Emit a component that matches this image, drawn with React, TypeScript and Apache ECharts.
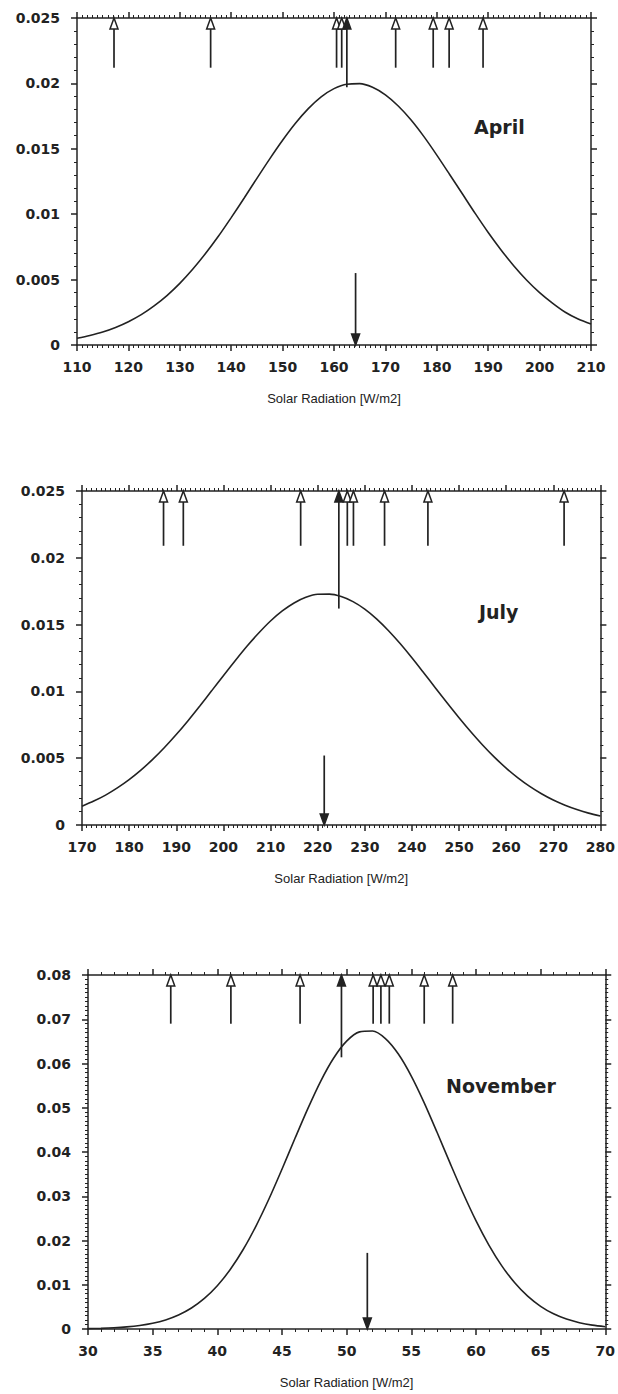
import { useEffect, useRef } from "react";
import * as echarts from "echarts";

// ---------- April ----------
const aprilCurveX = [110, 112.5, 115, 117.5, 120, 122.5, 125, 127.5, 130, 132.5, 135, 137.5, 140, 142.5, 145, 147.5, 150, 152.5, 155, 157.5, 160, 162.5, 165, 167.5, 170, 172.5, 175, 177.5, 180, 182.5, 185, 187.5, 190, 192.5, 195, 197.5, 200, 202.5, 205, 207.5, 210];
const aprilCurveY = [0.00052, 0.00073, 0.00099, 0.00134, 0.00178, 0.00232, 0.00299, 0.00378, 0.00471, 0.00579, 0.00699, 0.00831, 0.00974, 0.01122, 0.01274, 0.01423, 0.01565, 0.01695, 0.01807, 0.01897, 0.0196, 0.01994, 0.01998, 0.0197, 0.01912, 0.01827, 0.0172, 0.01593, 0.01452, 0.01304, 0.01154, 0.01004, 0.0086, 0.00727, 0.00604, 0.00495, 0.004, 0.0032, 0.0025, 0.00198, 0.0016];
const aprilObsX = [117.2, 136, 160.5, 161.5, 162.5, 172, 179.3, 182.4, 189];
const aprilObsLow = [0.0212, 0.0212, 0.0212, 0.0212, 0.0197, 0.0212, 0.0212, 0.0212, 0.0212];
const aprilObsFilled = [0, 0, 0, 0, 1, 0, 0, 0, 0];
const aprilMeanX = 164.2;
const aprilMeanTop = 0.0055;

// ---------- July ----------
const julyCurveX = [170, 172.5, 175, 177.5, 180, 182.5, 185, 187.5, 190, 192.5, 195, 197.5, 200, 202.5, 205, 207.5, 210, 212.5, 215, 217.5, 220, 222.5, 225, 227.5, 230, 232.5, 235, 237.5, 240, 242.5, 245, 247.5, 250, 252.5, 255, 257.5, 260, 262.5, 265, 267.5, 270, 272.5, 275, 277.5, 280];
const julyCurveY = [0.00141, 0.00179, 0.00224, 0.00278, 0.0034, 0.00411, 0.00491, 0.0058, 0.00677, 0.00781, 0.00891, 0.01004, 0.01118, 0.0123, 0.01338, 0.01437, 0.01527, 0.01602, 0.01662, 0.01704, 0.01727, 0.01728, 0.0171, 0.01672, 0.01616, 0.01543, 0.01456, 0.01358, 0.01252, 0.0114, 0.01026, 0.00913, 0.00803, 0.00698, 0.00599, 0.00508, 0.00426, 0.00353, 0.00289, 0.00234, 0.00187, 0.00148, 0.00116, 0.00089, 0.00068];
const julyObsX = [187.3, 191.5, 216.4, 224.5, 226.3, 227.6, 234.2, 243.4, 272.3];
const julyObsLow = [0.0209, 0.0209, 0.0209, 0.0162, 0.0209, 0.0209, 0.0209, 0.0209, 0.0209];
const julyObsFilled = [0, 0, 0, 1, 0, 0, 0, 0, 0];
const julyMeanX = 221.4;
const julyMeanTop = 0.0052;

// ---------- November ----------
const novCurveX = [30, 31, 32, 33, 34, 35, 36, 37, 38, 39, 40, 41, 42, 43, 44, 45, 46, 47, 48, 49, 50, 51, 52, 53, 54, 55, 56, 57, 58, 59, 60, 61, 62, 63, 64, 65, 66, 67, 68, 69, 70];
const novCurveY = [0.00008, 0.00015, 0.00027, 0.00047, 0.00079, 0.00129, 0.00205, 0.00316, 0.00474, 0.0069, 0.00977, 0.01344, 0.01796, 0.02333, 0.02943, 0.03611, 0.04304, 0.04981, 0.05604, 0.06125, 0.06506, 0.06715, 0.06734, 0.06563, 0.06214, 0.05717, 0.05112, 0.0444, 0.03748, 0.03074, 0.02449, 0.01897, 0.01427, 0.01044, 0.00741, 0.00512, 0.00343, 0.00224, 0.00142, 0.00087, 0.00052];
const novObsX = [36.4, 41.05, 46.4, 49.6, 52.05, 52.65, 53.3, 56, 58.2];
const novObsLow = [0.069, 0.069, 0.069, 0.0614, 0.069, 0.069, 0.069, 0.069, 0.069];
const novObsFilled = [0, 0, 0, 1, 0, 0, 0, 0, 0];
const novMeanX = 51.6;
const novMeanTop = 0.0172;

const monthNames = ["April", "July", "November"];
const axisTitle = "Solar Radiation [W/m2]";

const INK = "#222";

const panels = [
  {
    grid: { left: 77, top: 18, width: 514, height: 327 },
    x: { min: 110, max: 210, interval: 10, minor: 10 },
    y: { min: 0, max: 0.025, interval: 0.005, minor: 5 },
    curveX: aprilCurveX, curveY: aprilCurveY,
    obsX: aprilObsX, obsLow: aprilObsLow, obsFilled: aprilObsFilled,
    meanX: aprilMeanX, meanTop: aprilMeanTop,
    label: { text: monthNames[0], x: 474, y: 127 },
  },
  {
    grid: { left: 82, top: 491, width: 520, height: 334 },
    x: { min: 170, max: 280, interval: 10, minor: 10 },
    y: { min: 0, max: 0.025, interval: 0.005, minor: 5 },
    curveX: julyCurveX, curveY: julyCurveY,
    obsX: julyObsX, obsLow: julyObsLow, obsFilled: julyObsFilled,
    meanX: julyMeanX, meanTop: julyMeanTop,
    label: { text: monthNames[1], x: 479, y: 612 },
  },
  {
    grid: { left: 88, top: 975, width: 519, height: 354 },
    x: { min: 30, max: 70, interval: 5, minor: 5 },
    y: { min: 0, max: 0.08, interval: 0.01, minor: 10 },
    curveX: novCurveX, curveY: novCurveY,
    obsX: novObsX, obsLow: novObsLow, obsFilled: novObsFilled,
    meanX: novMeanX, meanTop: novMeanTop,
    label: { text: monthNames[2], x: 446, y: 1086 },
  },
];

function renderArrow(_params: any, api: any) {
  const x = api.value(0);
  const a = api.coord([x, api.value(1)]);
  const b = api.coord([x, api.value(2)]);
  const filled = api.value(3) === 1;
  const dir = b[1] < a[1] ? -1 : 1;
  const headH = 11;
  const headW = 4;
  const baseY = b[1] - dir * headH;
  return {
    type: "group",
    children: [
      {
        type: "line",
        shape: { x1: a[0], y1: a[1], x2: b[0], y2: baseY },
        style: { stroke: INK, lineWidth: 1.7 },
      },
      {
        type: "polygon",
        shape: { points: [[b[0], b[1]], [b[0] - headW, baseY], [b[0] + headW, baseY]] },
        style: { fill: filled ? INK : "#fff", stroke: INK, lineWidth: 1.5 },
      },
    ],
  };
}

export default function App() {
  const ref = useRef<HTMLDivElement>(null);
  useEffect(() => {
    document.body.style.margin = "0";
    if (!ref.current) return;
    const chart = echarts.init(ref.current, undefined, { renderer: "svg" });

    const lineStyle = { color: INK, width: 1.5 };
    const grids: any[] = [];
    const xAxes: any[] = [];
    const yAxes: any[] = [];
    const series: any[] = [];
    const graphics: any[] = [];

    panels.forEach((p, g) => {
      grids.push({ ...p.grid, containLabel: false });
      const xBase = {
        type: "value",
        gridIndex: g,
        min: p.x.min,
        max: p.x.max,
        interval: p.x.interval,
        splitLine: { show: false },
        minorSplitLine: { show: false },
        axisLine: { show: true, onZero: false, lineStyle },
        axisTick: { show: true, inside: false, length: 6, lineStyle },
        minorTick: { show: true, splitNumber: p.x.minor, length: 3, lineStyle: { color: INK, width: 1 } },
      };
      xAxes.push({
        ...xBase,
        position: "bottom",
        axisLabel: {
          show: true,
          margin: 15,
          color: INK,
          fontFamily: "DejaVu Sans",
          fontWeight: "bold",
          fontSize: 14,
        },
        name: axisTitle,
        nameLocation: "middle",
        nameGap: 47,
        nameTextStyle: { color: INK, fontFamily: "Liberation Sans", fontSize: 13 },
      });
      xAxes.push({ ...xBase, position: "top", axisLabel: { show: false } });

      const yBase = {
        type: "value",
        gridIndex: g,
        min: p.y.min,
        max: p.y.max,
        interval: p.y.interval,
        splitLine: { show: false },
        minorSplitLine: { show: false },
        axisLine: { show: true, onZero: false, lineStyle },
        axisTick: { show: true, inside: false, length: 6, lineStyle },
        minorTick: { show: true, splitNumber: p.y.minor, length: 3, lineStyle: { color: INK, width: 1 } },
      };
      yAxes.push({
        ...yBase,
        position: "left",
        axisLabel: {
          show: true,
          margin: 17,
          color: INK,
          fontFamily: "DejaVu Sans",
          fontWeight: "bold",
          fontSize: 14,
        },
      });
      yAxes.push({ ...yBase, position: "right", axisLabel: { show: false } });

      series.push({
        type: "line",
        xAxisIndex: 2 * g,
        yAxisIndex: 2 * g,
        data: p.curveX.map((x, i) => [x, p.curveY[i]]),
        smooth: 0.3,
        showSymbol: false,
        symbol: "none",
        lineStyle: { color: INK, width: 1.6 },
        silent: true,
      });

      const arrowData = p.obsX.map((x, i) => [x, p.obsLow[i], p.y.max, p.obsFilled[i]]);
      arrowData.push([p.meanX, p.meanTop, p.y.min, 1]);
      series.push({
        type: "custom",
        xAxisIndex: 2 * g,
        yAxisIndex: 2 * g,
        clip: false,
        encode: { x: 0, y: [1, 2] },
        data: arrowData,
        renderItem: renderArrow,
        silent: true,
      });

      graphics.push({
        type: "text",
        x: p.label.x,
        y: p.label.y,
        style: {
          text: p.label.text,
          fill: INK,
          fontFamily: "DejaVu Sans",
          fontWeight: "bold",
          fontSize: 19,
          verticalAlign: "middle",
        },
      });
    });

    chart.setOption({
      animation: false,
      backgroundColor: "#fff",
      grid: grids,
      xAxis: xAxes,
      yAxis: yAxes,
      series,
      graphic: graphics,
    });
    return () => chart.dispose();
  }, []);
  return <div ref={ref} style={{ width: 618, height: 1394 }} />;
}
